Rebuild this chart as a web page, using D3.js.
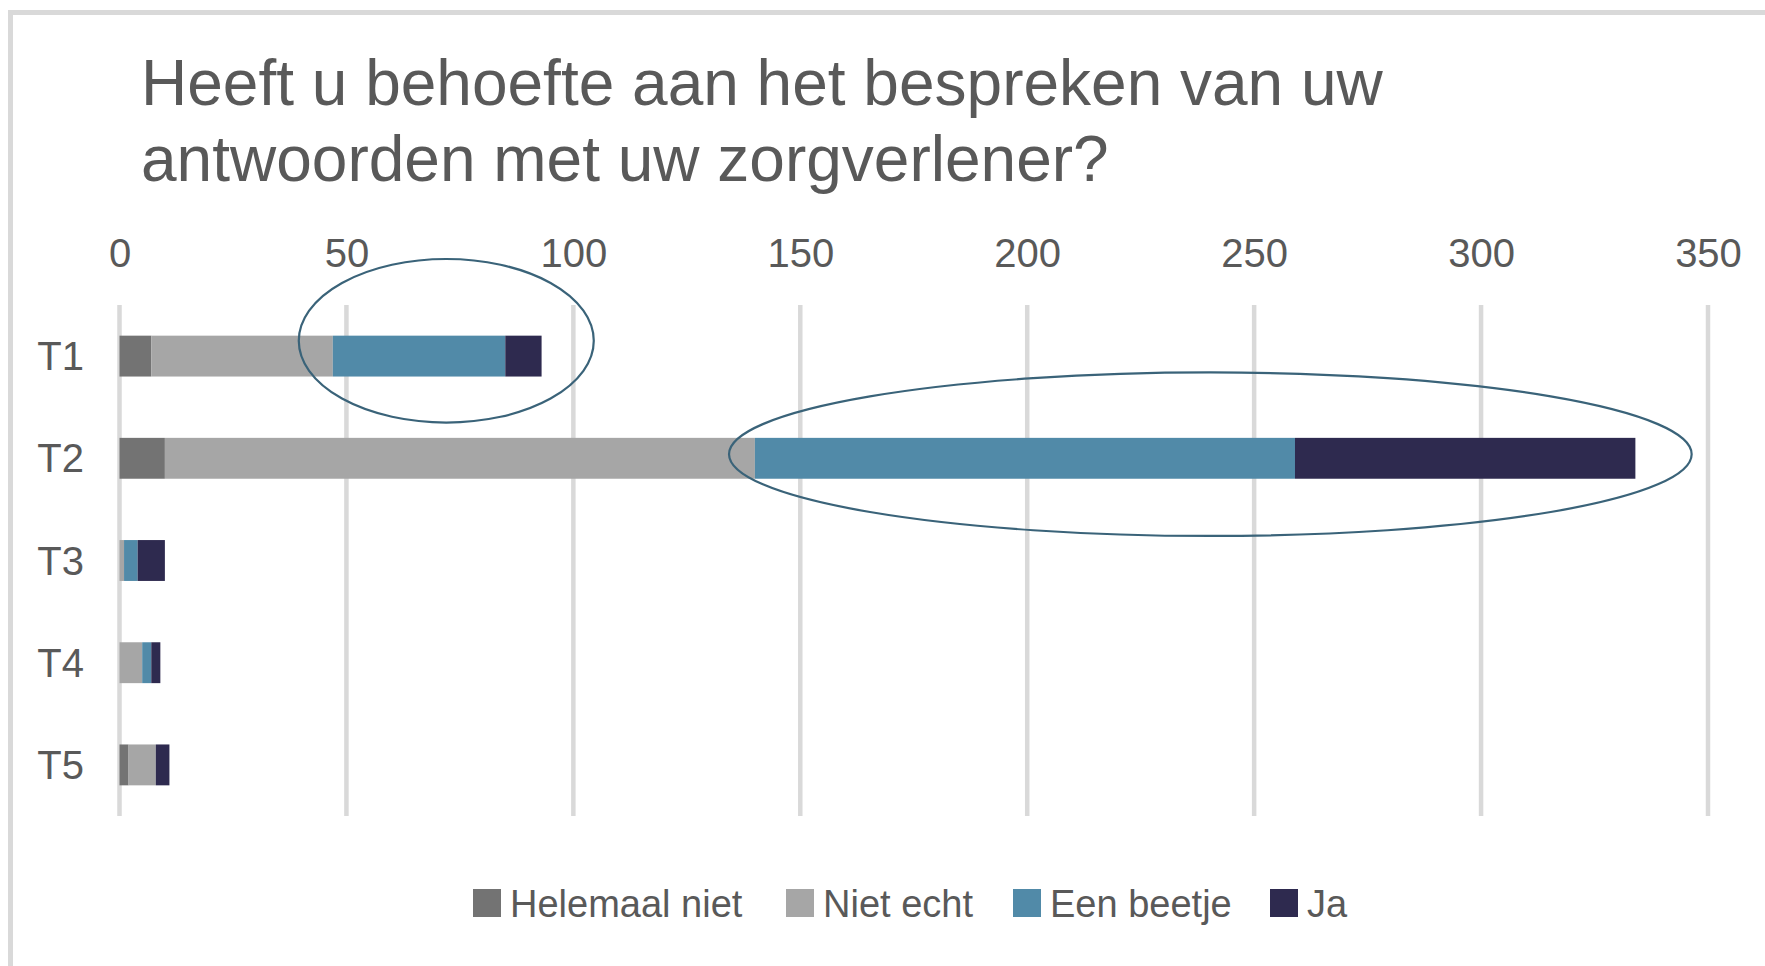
<!DOCTYPE html>
<html>
<head>
<meta charset="utf-8">
<script src="https://cdn.jsdelivr.net/npm/d3@7/dist/d3.min.js"></script>
<style>
  html, body { margin: 0; padding: 0; background: #ffffff; }
  svg { display: block; }
  text { font-family: "Liberation Sans", Arial, sans-serif; fill: #595959; }
</style>
</head>
<body>
<svg id="chart" width="1765" height="966"></svg>
<script>
// ---- data ----
const categories = ["T1", "T2", "T3", "T4", "T5"];
const seriesNames = ["Helemaal niet", "Niet echt", "Een beetje", "Ja"];
const helemaalNiet = [7, 10, 0, 0, 2];
const nietEcht     = [40, 130, 1, 5, 6];
const eenBeetje    = [38, 119, 3, 2, 0];
const ja           = [8, 75, 6, 2, 3];
const tickValues   = [0, 50, 100, 150, 200, 250, 300, 350];
const titleLines   = ["Heeft u behoefte aan het bespreken van uw", "antwoorden met uw zorgverlener?"];
// highlighted ranges (annotation ellipses), in value units
const highlightCategory = ["T1", "T2"];
const highlightFrom     = [39.5, 134.3];
const highlightTo       = [104.5, 346.4];

const colors = ["#737373", "#a6a6a6", "#518aa8", "#2e2a4f"];

const svg = d3.select("#chart");
const W = 1765, H = 966;

svg.append("rect").attr("width", W).attr("height", H).attr("fill", "#ffffff");
// frame
svg.append("rect").attr("x", 8).attr("y", 10).attr("width", W - 8).attr("height", 5).attr("fill", "#d9d9d9");
svg.append("rect").attr("x", 8).attr("y", 10).attr("width", 5).attr("height", H - 10).attr("fill", "#d9d9d9");

// title
svg.append("g").selectAll("text").data(titleLines).join("text")
  .attr("x", 141)
  .attr("y", (d, i) => 105 + i * 76)
  .attr("font-size", 64)
  .text(d => d);

const x = d3.scaleLinear().domain([0, 350]).range([119.5, 1708]);
const y = d3.scaleBand().domain(categories).range([305, 816]).paddingInner(0.6).paddingOuter(0.3);

// gridlines
svg.append("g").selectAll("line").data(tickValues).join("line")
  .attr("x1", d => x(d)).attr("x2", d => x(d))
  .attr("y1", 305).attr("y2", 816)
  .attr("stroke", "#d9d9d9").attr("stroke-width", 4.5);

// top axis labels
const xAxis = d3.axisTop(x).tickValues(tickValues).tickSize(0).tickPadding(0);
const gx = svg.append("g").attr("transform", "translate(0,267)").call(xAxis);
gx.select(".domain").remove();
gx.selectAll("text").attr("font-size", 40).attr("fill", "#595959")
  .attr("font-family", "Liberation Sans, Arial, sans-serif").attr("dy", 0);

// category labels
const yAxis = d3.axisLeft(y).tickSize(0).tickPadding(0);
const gy = svg.append("g").attr("transform", "translate(84,0)").call(yAxis);
gy.select(".domain").remove();
gy.selectAll("text").attr("font-size", 40).attr("fill", "#595959")
  .attr("font-family", "Liberation Sans, Arial, sans-serif").attr("dy", "0.35em");

// stacked bars
const table = categories.map((c, i) => ({
  cat: c,
  "Helemaal niet": helemaalNiet[i],
  "Niet echt": nietEcht[i],
  "Een beetje": eenBeetje[i],
  "Ja": ja[i]
}));
const stacked = d3.stack().keys(seriesNames)(table);

svg.append("g").selectAll("g").data(stacked).join("g")
  .attr("fill", (d, i) => colors[i])
  .selectAll("rect").data(d => d).join("rect")
  .attr("x", d => x(d[0]))
  .attr("width", d => Math.max(0, x(d[1]) - x(d[0])))
  .attr("y", d => y(d.data.cat))
  .attr("height", y.bandwidth());

// annotation ellipses
const step = y.step();
const hl = highlightCategory.map((c, i) => ({ cat: c, from: highlightFrom[i], to: highlightTo[i] }));
const yOffsets = [-0.15, -0.04];
svg.append("g").selectAll("ellipse").data(hl).join("ellipse")
  .attr("cx", d => (x(d.from) + x(d.to)) / 2)
  .attr("cy", (d, i) => y(d.cat) + y.bandwidth() / 2 + yOffsets[i] * step)
  .attr("rx", d => (x(d.to) - x(d.from)) / 2)
  .attr("ry", 0.8 * step)
  .attr("fill", "none")
  .attr("stroke", "#3a6379")
  .attr("stroke-width", 2.2);

// legend
const legendX = [473, 786, 1013, 1270];
const lg = svg.append("g").selectAll("g").data(seriesNames).join("g")
  .attr("transform", (d, i) => `translate(${legendX[i]},889)`);
lg.append("rect").attr("width", 28).attr("height", 28).attr("fill", (d, i) => colors[i]);
lg.append("text").attr("x", 37).attr("y", 28).attr("font-size", 38).text(d => d);
</script>
</body>
</html>
